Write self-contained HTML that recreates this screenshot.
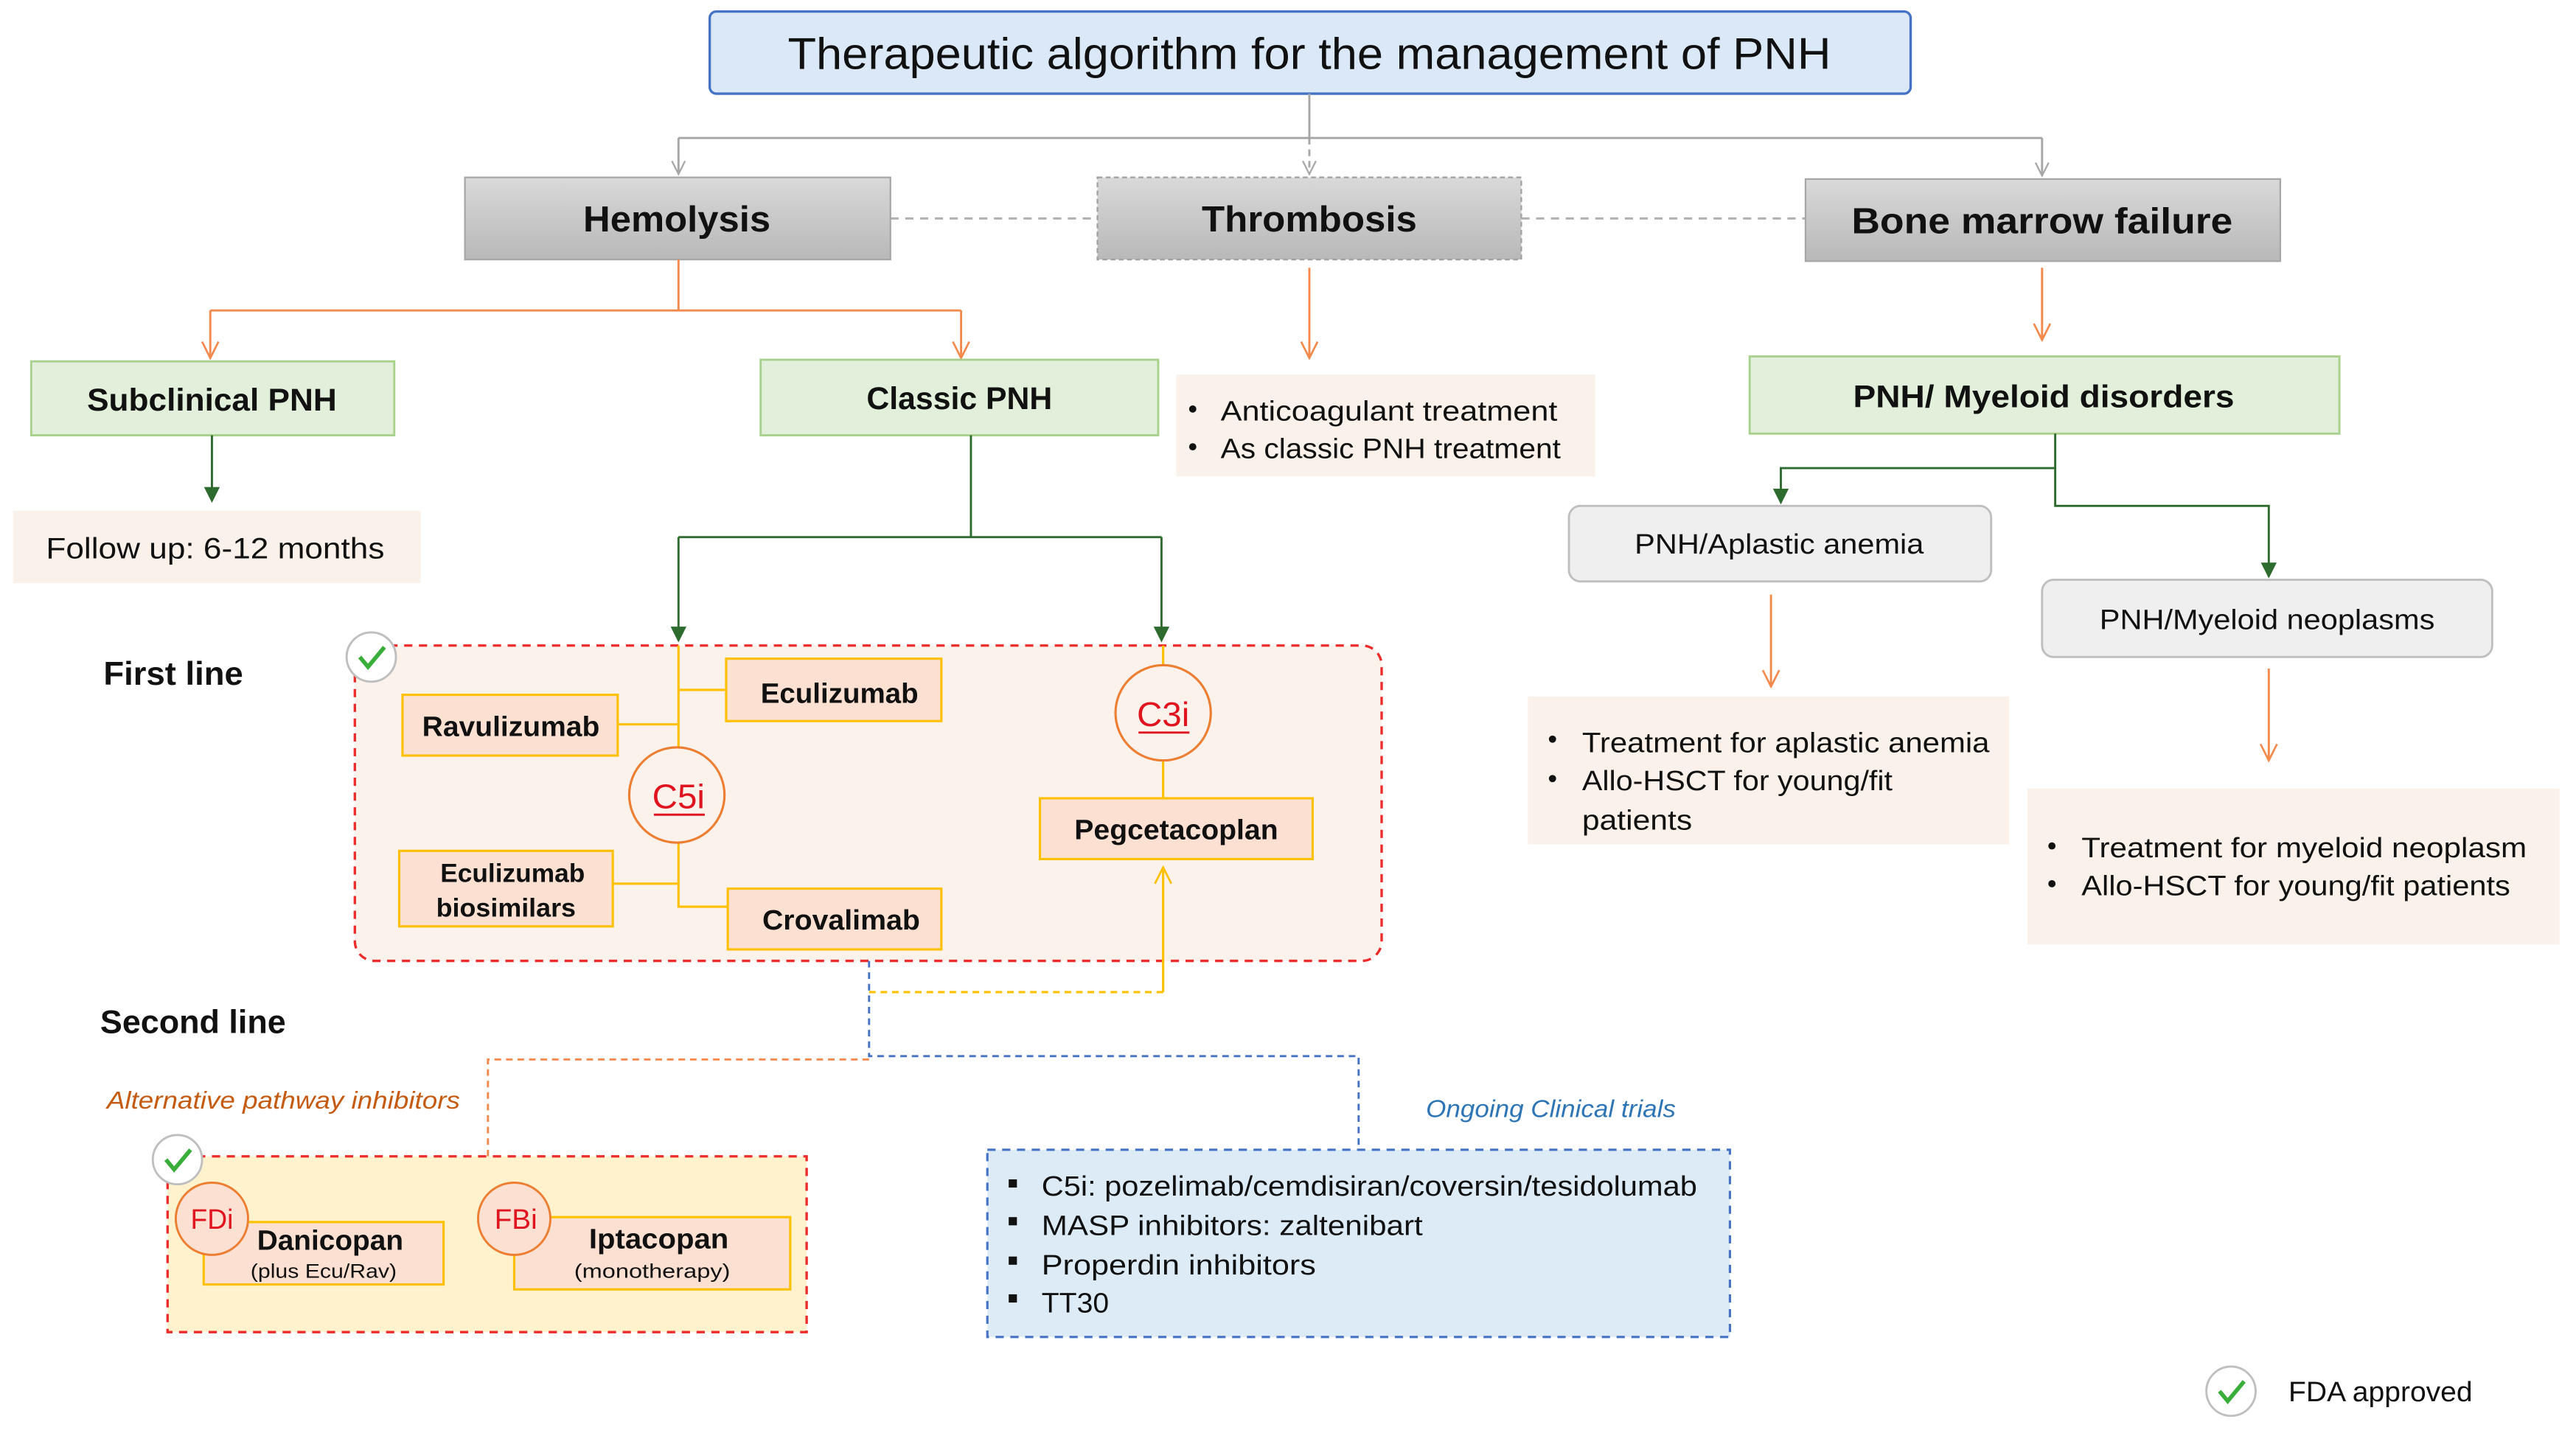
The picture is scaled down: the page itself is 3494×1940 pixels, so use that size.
<!DOCTYPE html>
<html><head><meta charset="utf-8"><style>
html,body{margin:0;padding:0;background:#fff;width:3494px;height:1940px;overflow:hidden}
svg{display:block}
text{font-family:"Liberation Sans",sans-serif;fill:#111}
.b{font-weight:bold}
</style></head><body>
<svg width="3494" height="1940" viewBox="0 0 1568 870.6" xmlns="http://www.w3.org/2000/svg">
<defs>
<linearGradient id="g" x1="0" y1="0" x2="0" y2="1"><stop offset="0" stop-color="#d9d9d9"/><stop offset="1" stop-color="#b8b8b8"/></linearGradient>
<marker id="ag" markerWidth="10" markerHeight="10" refX="9" refY="5" orient="auto" markerUnits="userSpaceOnUse"><path d="M1,1 L9,5 L1,9" fill="none" stroke="#a6a6a6" stroke-width="1"/></marker>
<marker id="ao" markerWidth="12" markerHeight="12" refX="11" refY="6" orient="auto" markerUnits="userSpaceOnUse"><path d="M1,1 L11,6 L1,11" fill="none" stroke="#f4894b" stroke-width="1.2"/></marker>
<marker id="ay" markerWidth="12" markerHeight="12" refX="11" refY="6" orient="auto" markerUnits="userSpaceOnUse"><path d="M1,1 L11,6 L1,11" fill="none" stroke="#ffc000" stroke-width="1.2"/></marker>
<marker id="agr" markerWidth="10" markerHeight="10" refX="9" refY="5" orient="auto" markerUnits="userSpaceOnUse"><path d="M1,1 L9,5 L1,9 Z" fill="#2e6b2e" stroke="#2e6b2e"/></marker>
</defs>

<!-- Title -->
<rect x="432" y="7" width="731" height="50" rx="4" fill="#dae8f8" stroke="#4472c4" stroke-width="1.5"/>
<text x="797" y="42" font-size="27" text-anchor="middle" textLength="635" lengthAdjust="spacingAndGlyphs">Therapeutic algorithm for the management of PNH</text>

<!-- gray connectors -->
<g stroke="#a6a6a6" stroke-width="1.3" fill="none">
<path d="M797,57 V84"/>
<path d="M413,84 H1243"/>
<path d="M413,84 V106" marker-end="url(#ag)"/>
<path d="M797,84 V106" stroke-dasharray="4,3" marker-end="url(#ag)"/>
<path d="M1243,84 V107" marker-end="url(#ag)"/>
<path d="M542,133 H668 M926,133 H1099" stroke-dasharray="5,4" stroke="#b0b0b0"/>
</g>

<!-- Top category boxes -->
<rect x="283" y="108" width="259" height="50" fill="url(#g)" stroke="#a6a6a6"/>
<text x="412" y="141" font-size="22" class="b" text-anchor="middle" textLength="114" lengthAdjust="spacingAndGlyphs">Hemolysis</text>
<rect x="668" y="108" width="258" height="50" fill="url(#g)" stroke="#a0a0a0" stroke-dasharray="3,2"/>
<text x="797" y="141" font-size="22" class="b" text-anchor="middle" textLength="131" lengthAdjust="spacingAndGlyphs">Thrombosis</text>
<rect x="1099" y="109" width="289" height="50" fill="url(#g)" stroke="#a6a6a6"/>
<text x="1243" y="142" font-size="22" class="b" text-anchor="middle" textLength="232" lengthAdjust="spacingAndGlyphs">Bone marrow failure</text>

<!-- orange connectors -->
<g stroke="#f4894b" stroke-width="1.3" fill="none">
<path d="M413,158 V189 M128,189 H585"/>
<path d="M128,189 V218" marker-end="url(#ao)"/>
<path d="M585,189 V218" marker-end="url(#ao)"/>
<path d="M797,163 V218" marker-end="url(#ao)"/>
<path d="M1243,163 V207" marker-end="url(#ao)"/>
<path d="M1078,362 V418" marker-end="url(#ao)"/>
<path d="M1381,407 V463" marker-end="url(#ao)"/>
</g>

<!-- green boxes -->
<rect x="19" y="220" width="221" height="45" fill="#e2efda" stroke="#a9d18e" stroke-width="1.3"/>
<text x="129" y="250" font-size="19" class="b" text-anchor="middle" textLength="152" lengthAdjust="spacingAndGlyphs">Subclinical PNH</text>
<rect x="463" y="219" width="242" height="46" fill="#e2efda" stroke="#a9d18e" stroke-width="1.3"/>
<text x="584" y="249" font-size="19" class="b" text-anchor="middle" textLength="113" lengthAdjust="spacingAndGlyphs">Classic PNH</text>
<rect x="1065" y="217" width="359" height="47" fill="#e2efda" stroke="#a9d18e" stroke-width="1.3"/>
<text x="1244" y="248" font-size="19" class="b" text-anchor="middle" textLength="232" lengthAdjust="spacingAndGlyphs">PNH/ Myeloid disorders</text>

<!-- Anticoagulant box -->
<rect x="716" y="228" width="255" height="62" fill="#fbf1eb"/>
<circle cx="726" cy="249" r="2.2" fill="#111"/><circle cx="726" cy="272" r="2.2" fill="#111"/>
<text x="743" y="256" font-size="17" textLength="205" lengthAdjust="spacingAndGlyphs">Anticoagulant treatment</text>
<text x="743" y="279" font-size="17" textLength="207" lengthAdjust="spacingAndGlyphs">As classic PNH treatment</text>

<!-- dark green connectors -->
<g stroke="#2e6b2e" stroke-width="1.3" fill="none">
<path d="M129,265 V305" marker-end="url(#agr)"/>
<path d="M591,265 V327 M413,327 H707"/>
<path d="M413,327 V390" marker-end="url(#agr)"/>
<path d="M707,327 V390" marker-end="url(#agr)"/>
<path d="M1251,264 V308 H1381 V351" marker-end="url(#agr)"/>
<path d="M1251,285 H1084 V306" marker-end="url(#agr)"/>
</g>

<!-- Follow up -->
<rect x="8" y="311" width="248" height="44" fill="#fbf1eb"/>
<text x="28" y="340" font-size="18" textLength="206" lengthAdjust="spacingAndGlyphs">Follow up: 6-12 months</text>

<!-- BMF sub boxes -->
<rect x="955" y="308" width="257" height="46" rx="7" fill="#efefef" stroke="#bfbfbf" stroke-width="1.3"/>
<text x="1083" y="337" font-size="17" text-anchor="middle" textLength="176" lengthAdjust="spacingAndGlyphs">PNH/Aplastic anemia</text>
<rect x="1243" y="353" width="274" height="47" rx="7" fill="#efefef" stroke="#bfbfbf" stroke-width="1.3"/>
<text x="1380" y="383" font-size="17" text-anchor="middle" textLength="204" lengthAdjust="spacingAndGlyphs">PNH/Myeloid neoplasms</text>

<rect x="930" y="424" width="293" height="90" fill="#fbf1eb"/>
<circle cx="945" cy="450" r="2.2" fill="#111"/><circle cx="945" cy="474" r="2.2" fill="#111"/>
<text x="963" y="458" font-size="17" textLength="248" lengthAdjust="spacingAndGlyphs">Treatment for aplastic anemia</text>
<text x="963" y="481" font-size="17" textLength="189" lengthAdjust="spacingAndGlyphs">Allo-HSCT for young/fit</text>
<text x="963" y="505" font-size="17" textLength="67" lengthAdjust="spacingAndGlyphs">patients</text>

<rect x="1234" y="480" width="324" height="95" fill="#fbf1eb"/>
<circle cx="1249" cy="515" r="2.2" fill="#111"/><circle cx="1249" cy="538" r="2.2" fill="#111"/>
<text x="1267" y="522" font-size="17" textLength="271" lengthAdjust="spacingAndGlyphs">Treatment for myeloid neoplasm</text>
<text x="1267" y="545" font-size="17" textLength="261" lengthAdjust="spacingAndGlyphs">Allo-HSCT for young/fit patients</text>

<!-- First line -->
<text x="63" y="417" font-size="20" class="b" textLength="85" lengthAdjust="spacingAndGlyphs">First line</text>
<rect x="216" y="393" width="625" height="192" rx="12" fill="#fcf2ec" stroke="#ee2b2b" stroke-width="1.5" stroke-dasharray="5,4"/>
<g fill="#fff" stroke="#bfbfbf" stroke-width="1.3"><circle cx="226" cy="400" r="15"/></g>
<path d="M219,400 L224,406 L234,394" fill="none" stroke="#3aae3a" stroke-width="2.5"/>

<g stroke="#ffc000" stroke-width="1.4" fill="none">
<path d="M413,393 V455 M413,513 V552 H443"/>
<path d="M413,420 H442 M376,441 H413 M373,538 H413"/>
<path d="M708,393 V405 M708,463 V486"/>
<path d="M529,604 H708" stroke-dasharray="4,3"/>
<path d="M708,604 V528" marker-end="url(#ay)"/>
</g>
<g fill="#fce0d2" stroke="#ffc000" stroke-width="1.4">
<rect x="442" y="401" width="131" height="38"/>
<rect x="245" y="423" width="131" height="37"/>
<rect x="243" y="518" width="130" height="46"/>
<rect x="443" y="541" width="130" height="37"/>
<rect x="633" y="486" width="166" height="37"/>
</g>
<text x="511" y="428" font-size="17" class="b" text-anchor="middle" textLength="96" lengthAdjust="spacingAndGlyphs">Eculizumab</text>
<text x="311" y="448" font-size="17" class="b" text-anchor="middle" textLength="108" lengthAdjust="spacingAndGlyphs">Ravulizumab</text>
<text x="312" y="537" font-size="16" class="b" text-anchor="middle" textLength="88" lengthAdjust="spacingAndGlyphs">Eculizumab</text>
<text x="308" y="558" font-size="16" class="b" text-anchor="middle" textLength="85" lengthAdjust="spacingAndGlyphs">biosimilars</text>
<text x="512" y="566" font-size="17" class="b" text-anchor="middle" textLength="96" lengthAdjust="spacingAndGlyphs">Crovalimab</text>
<text x="716" y="511" font-size="17" class="b" text-anchor="middle" textLength="124" lengthAdjust="spacingAndGlyphs">Pegcetacoplan</text>

<circle cx="412" cy="484" r="29" fill="#fcf2ec" stroke="#ed7d31" stroke-width="1.4"/>
<text x="413" y="492" font-size="21" text-anchor="middle" style="fill:#e0141e" textLength="32" lengthAdjust="spacingAndGlyphs">C5i</text>
<path d="M398,496 H429" stroke="#e0141e" stroke-width="1.3"/>
<circle cx="708" cy="434" r="29" fill="#fcf2ec" stroke="#ed7d31" stroke-width="1.4"/>
<text x="708" y="442" font-size="21" text-anchor="middle" style="fill:#e0141e" textLength="32" lengthAdjust="spacingAndGlyphs">C3i</text>
<path d="M693,446 H724" stroke="#e0141e" stroke-width="1.3"/>

<!-- Second line -->
<text x="61" y="629" font-size="20" class="b" textLength="113" lengthAdjust="spacingAndGlyphs">Second line</text>
<g fill="none" stroke-width="1.3" stroke-dasharray="4,3">
<path d="M529,585 V643 H827 V700" stroke="#4472c4"/>
<path d="M529,645 H297 V704" stroke="#f4894b"/>
</g>
<text x="65" y="675" font-size="15" font-style="italic" style="fill:#c55a11" textLength="215" lengthAdjust="spacingAndGlyphs">Alternative pathway inhibitors</text>
<text x="868" y="680" font-size="15" font-style="italic" style="fill:#2e75b6" textLength="152" lengthAdjust="spacingAndGlyphs">Ongoing Clinical trials</text>

<rect x="102" y="704" width="389" height="107" fill="#fff2cc" stroke="#ee2b2b" stroke-width="1.5" stroke-dasharray="5,4"/>
<circle cx="108" cy="706" r="15" fill="#fff" stroke="#bfbfbf" stroke-width="1.3"/>
<path d="M101,706 L106,712 L116,700" fill="none" stroke="#3aae3a" stroke-width="2.5"/>
<rect x="124" y="744" width="146" height="38" fill="#fce0d2" stroke="#ffc000" stroke-width="1.4"/>
<rect x="313" y="741" width="168" height="44" fill="#fce0d2" stroke="#ffc000" stroke-width="1.4"/>
<circle cx="129" cy="742" r="22" fill="#fce0d2" stroke="#ed7d31" stroke-width="1.3"/>
<circle cx="313" cy="742" r="22" fill="#fce0d2" stroke="#ed7d31" stroke-width="1.3"/>
<text x="129" y="748" font-size="17" text-anchor="middle" style="fill:#e0141e" textLength="26" lengthAdjust="spacingAndGlyphs">FDi</text>
<text x="314" y="748" font-size="17" text-anchor="middle" style="fill:#e0141e" textLength="26" lengthAdjust="spacingAndGlyphs">FBi</text>
<text x="201" y="761" font-size="17" class="b" text-anchor="middle" textLength="89" lengthAdjust="spacingAndGlyphs">Danicopan</text>
<text x="197" y="778" font-size="12" text-anchor="middle" textLength="89" lengthAdjust="spacingAndGlyphs">(plus Ecu/Rav)</text>
<text x="401" y="760" font-size="17" class="b" text-anchor="middle" textLength="85" lengthAdjust="spacingAndGlyphs">Iptacopan</text>
<text x="397" y="778" font-size="12" text-anchor="middle" textLength="95" lengthAdjust="spacingAndGlyphs">(monotherapy)</text>

<rect x="601" y="700" width="452" height="114" fill="#ddebf7" stroke="#4472c4" stroke-width="1.4" stroke-dasharray="5,4"/>
<g fill="#111"><rect x="614" y="718" width="5" height="5"/><rect x="614" y="741" width="5" height="5"/><rect x="614" y="765" width="5" height="5"/><rect x="614" y="788" width="5" height="5"/></g>
<text x="634" y="728" font-size="17" textLength="399" lengthAdjust="spacingAndGlyphs">C5i: pozelimab/cemdisiran/coversin/tesidolumab</text>
<text x="634" y="752" font-size="17" textLength="232" lengthAdjust="spacingAndGlyphs">MASP inhibitors: zaltenibart</text>
<text x="634" y="776" font-size="17" textLength="167" lengthAdjust="spacingAndGlyphs">Properdin inhibitors</text>
<text x="634" y="799" font-size="17" textLength="41" lengthAdjust="spacingAndGlyphs">TT30</text>

<!-- legend -->
<circle cx="1358" cy="847" r="15" fill="#fff" stroke="#bfbfbf" stroke-width="1.3"/>
<path d="M1351,847 L1356,853 L1366,841" fill="none" stroke="#3aae3a" stroke-width="2.5"/>
<text x="1393" y="853" font-size="17" textLength="112" lengthAdjust="spacingAndGlyphs">FDA approved</text>
</svg>
</body></html>
